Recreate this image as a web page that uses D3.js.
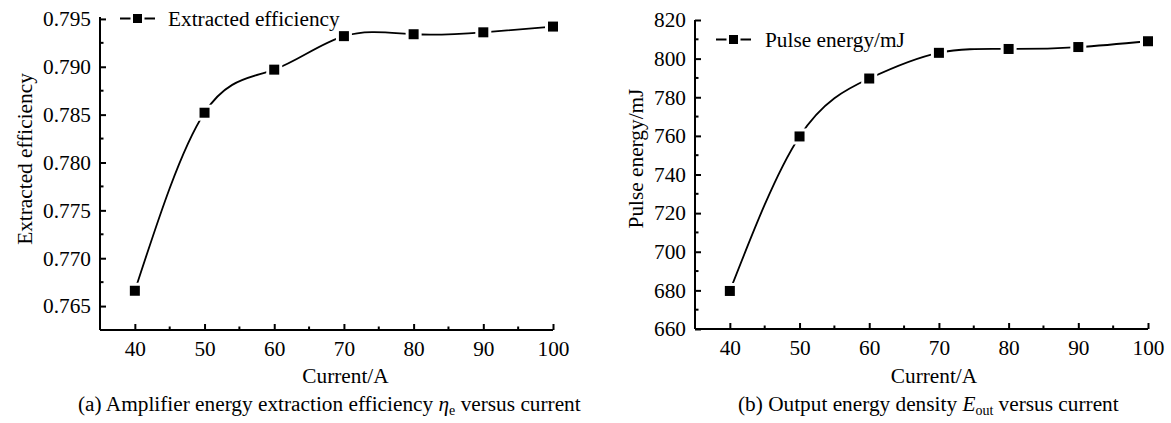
<!DOCTYPE html>
<html><head><meta charset="utf-8">
<script src="https://cdn.jsdelivr.net/npm/d3@7/dist/d3.min.js"></script>
</head>
<body style="margin:0">
<svg id="chart" width="1171" height="423"></svg>
<script>
const currents = [40, 50, 60, 70, 80, 90, 100];
const efficiency = [0.7666, 0.7852, 0.7897, 0.7932, 0.7934, 0.7936, 0.7942];
const pulseEnergy = [679.7, 759.7, 789.7, 803.0, 805.0, 806.0, 809.0];
const xTicks = [40, 50, 60, 70, 80, 90, 100];
const effTicks = [0.765, 0.770, 0.775, 0.780, 0.785, 0.790, 0.795];
const energyTicks = [660, 680, 700, 720, 740, 760, 780, 800, 820];

const FONT = '"Liberation Serif", monospace';
const svg = d3.select("#chart");
const FS = 21.3;

function label(sel) {
  return sel.attr("font-size", FS).style("font-family", FONT).attr("fill", "#000");
}

function panel(cfg) {
  const g = svg.append("g");
  const x = d3.scaleLinear().domain([35, 100]).range([cfg.x0, cfg.x1]);
  const y = d3.scaleLinear().domain(cfg.ydom).range([cfg.y0, cfg.y1]);

  const xMinor = d3.range(45, 100, 10);

  // x axis
  const xa = g.append("g").attr("transform", `translate(0,${cfg.y0})`)
    .call(d3.axisBottom(x).tickValues(xTicks).tickSize(-6).tickFormat(d3.format("d")));
  xa.attr("font-family", null).attr("font-size", null);
  xa.select(".domain").attr("stroke-width", 2).attr("d", `M${cfg.x0},0H${cfg.x1}`);
  xa.selectAll(".tick line").attr("stroke-width", 2);
  label(xa.selectAll(".tick text")).attr("y", 26).attr("dy", null);
  xa.append("g").selectAll("line").data(xMinor).join("line")
    .attr("x1", d => x(d)).attr("x2", d => x(d)).attr("y1", 0).attr("y2", -3.5)
    .attr("stroke", "#000").attr("stroke-width", 2);

  // y axis
  const ya = g.append("g").attr("transform", `translate(${cfg.x0},0)`)
    .call(d3.axisLeft(y).tickValues(cfg.yTicks).tickSize(-6).tickPadding(9).tickFormat(cfg.fmt));
  ya.attr("font-family", null).attr("font-size", null);
  ya.select(".domain").attr("stroke-width", 2).attr("d", `M0,${cfg.y0}V${cfg.y1}`);
  ya.selectAll(".tick line").attr("stroke-width", 2);
  label(ya.selectAll(".tick text"));
  ya.append("g").selectAll("line").data(cfg.yMinor).join("line")
    .attr("y1", d => y(d)).attr("y2", d => y(d)).attr("x1", 0).attr("x2", 3.5)
    .attr("stroke", "#000").attr("stroke-width", 2);

  // line
  const pts = currents.map((c, i) => [c, cfg.values[i]]);
  g.append("path").datum(pts)
    .attr("d", d3.line().x(d => x(d[0])).y(d => y(d[1])).curve(d3.curveNatural))
    .attr("fill", "none").attr("stroke", "#000").attr("stroke-width", 1.8);
  g.selectAll("rect.gap").data(pts).join("rect").attr("class", "gap")
    .attr("x", d => x(d[0]) - 8).attr("y", d => y(d[1]) - 8).attr("width", 16).attr("height", 16)
    .attr("fill", "#fff");
  g.selectAll("rect.mk").data(pts).join("rect").attr("class", "mk")
    .attr("x", d => x(d[0]) - 5).attr("y", d => y(d[1]) - 5).attr("width", 10).attr("height", 10)
    .attr("fill", "#000");

  // legend
  const L = cfg.legend;
  g.append("line").attr("x1", L.x).attr("x2", L.x + 35).attr("y1", L.y).attr("y2", L.y)
    .attr("stroke", "#000").attr("stroke-width", 1.8);
  g.append("rect").attr("x", L.x + 17.5 - 7).attr("y", L.y - 7).attr("width", 14).attr("height", 14).attr("fill", "#fff");
  g.append("rect").attr("x", L.x + 17.5 - 4.5).attr("y", L.y - 4.5).attr("width", 9).attr("height", 9).attr("fill", "#000");
  label(g.append("text")).attr("x", L.tx).attr("y", L.y).attr("dy", "0.33em").text(cfg.name);

  // axis titles
  label(g.append("text")).attr("x", cfg.xlabX).attr("y", 383).attr("text-anchor", "middle").text("Current/A");
  label(g.append("text")).attr("transform", `translate(${cfg.ylabX},${cfg.ylabY}) rotate(-90)`)
    .attr("text-anchor", "middle").text(cfg.ylabel);

  // caption
  const cap = label(g.append("text")).attr("x", cfg.capX).attr("y", 411);
  cap.append("tspan").text(cfg.cap[0]);
  cap.append("tspan").attr("font-style", "italic").text(cfg.cap[1]);
  cap.append("tspan").attr("font-size", 14).attr("dy", 4).text(cfg.cap[2]);
  cap.append("tspan").attr("dy", -4).text(cfg.cap[3]);
}

panel({
  x0: 100, x1: 553, y0: 330, y1: 17,
  ydom: [0.7625, 0.7952],
  yTicks: effTicks, yMinor: d3.range(0.7675, 0.795, 0.005),
  fmt: d3.format(".3f"),
  values: efficiency, name: "Extracted efficiency",
  legend: {x: 120, y: 18.5, tx: 168},
  xlabX: 345.5, ylabX: 32, ylabY: 159, ylabel: "Extracted efficiency",
  capX: 78, cap: ["(a) Amplifier energy extraction efficiency ", "η", "e", " versus current"]
});

panel({
  x0: 695, x1: 1148, y0: 329, y1: 20,
  ydom: [660, 820],
  yTicks: energyTicks, yMinor: d3.range(670, 820, 20),
  fmt: d3.format("d"),
  values: pulseEnergy, name: "Pulse energy/mJ",
  legend: {x: 716, y: 39.5, tx: 765},
  xlabX: 934, ylabX: 643, ylabY: 158.5, ylabel: "Pulse energy/mJ",
  capX: 738, cap: ["(b) Output energy density ", "E", "out", " versus current"]
});
</script>
</body></html>
